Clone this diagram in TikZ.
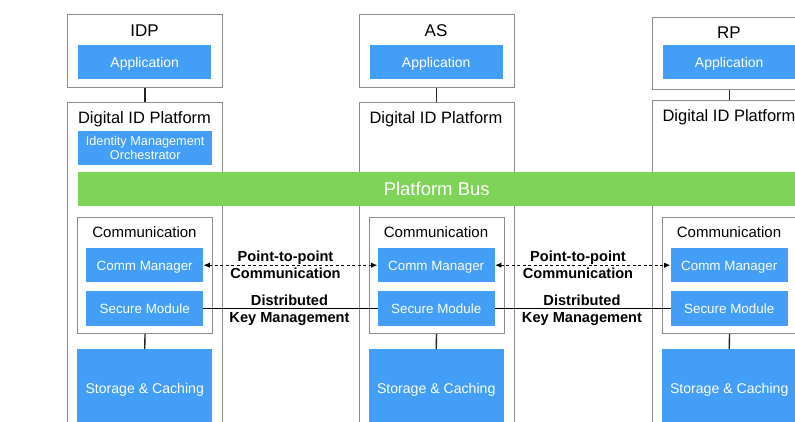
\documentclass[tikz,border=0pt]{standalone}
\usepackage{fontspec}
\setmainfont{Liberation Sans}
\usetikzlibrary{arrows.meta}
\definecolor{boxblue}{RGB}{66,158,246}
\definecolor{busgreen}{RGB}{126,211,88}
\definecolor{framegray}{RGB}{140,140,140}
\definecolor{linedark}{RGB}{35,35,35}
\begin{document}
\begin{tikzpicture}[x=1pt,y=-1pt,
  frame/.style={draw=framegray, line width=1.3pt, fill=white, inner sep=0pt, anchor=north west},
  subframe/.style={draw=framegray, line width=1.1pt, fill=white, inner sep=0pt, anchor=north west},
  bluebox/.style={fill=boxblue, text=white, inner sep=0pt, anchor=north west,
    font=\fontsize{13.4}{15}\selectfont, text height=9.6pt, text depth=0pt,
    minimum width=117pt},
  appbox/.style={bluebox, font=\fontsize{14}{16}\selectfont, text height=10pt,
    minimum width=133pt, minimum height=34pt},
  storebox/.style={bluebox, font=\fontsize{14.1}{16}\selectfont, text height=10.1pt,
    minimum width=135pt, minimum height=78pt},
  heading/.style={anchor=base, inner sep=0pt, font=\fontsize{17}{19}\selectfont},
  platname/.style={anchor=base, inner sep=0pt, font=\fontsize{16.5}{18}\selectfont},
  commname/.style={anchor=base, inner sep=0pt, font=\fontsize{15}{17}\selectfont},
  link/.style={draw=linedark, line width=1.4pt},
  p2p/.style={draw=black, line width=1.2pt, dash pattern=on 3pt off 2.5pt,
    {Latex[length=6.5pt,width=5.5pt]}-{Latex[length=6.5pt,width=5.5pt]}},
  keyline/.style={draw=black, line width=1.2pt},
  lbl/.style={align=center, inner sep=0pt, font=\bfseries\fontsize{14.6}{17}\selectfont}
]
\useasboundingbox (0,0) rectangle (795,421);
\clip (0,0) rectangle (795,421);

% top boxes
\node[frame, minimum width=155pt, minimum height=73pt] (idptop) at (67,14) {};
\node[frame, minimum width=155pt, minimum height=73pt] (astop) at (358.5,14) {};
\node[frame, minimum width=155pt, minimum height=72pt] (rptop) at (651.5,17) {};
\node[heading] (idptitle) at (144.5,36) {IDP};
\node[heading] (astitle) at (436,36) {AS};
\node[heading] (rptitle) at (729,38) {RP};
\node[appbox] (idpapp) at (78,45) {Application};
\node[appbox] (asapp) at (369.5,45) {Application};
\node[appbox] (rpapp) at (662.5,45) {Application};

% platform boxes
\node[frame, minimum width=155pt, minimum height=340pt] (idpplat) at (67,102) {};
\node[frame, minimum width=155pt, minimum height=340pt] (asplat) at (358.5,102) {};
\node[frame, minimum width=155pt, minimum height=342pt] (rpplat) at (651.5,100) {};
\node[platname] (idpplatname) at (144.5,123.5) {Digital ID Platform};
\node[platname] (asplatname) at (436,123.5) {Digital ID Platform};
\node[platname] (rpplatname) at (729,121.5) {Digital ID Platform};

\draw[link] (idptop.south) -- (idpplat.north);
\draw[link] (astop.south) -- (asplat.north);
\draw[link] (rptop.south) -- (rpplat.north);

% orchestrator
\node[bluebox, minimum width=134pt, minimum height=34pt, align=center,
  font=\fontsize{12.7}{13.5}\selectfont, text height={}, text depth={}] (imo) at (78,131)
  {Identity Management\\Orchestrator};

% platform bus
\node[fill=busgreen, text=white, anchor=north west, inner sep=0pt, minimum width=717pt,
  minimum height=34pt, font=\fontsize{18.5}{20}\selectfont, text height=13.2pt,
  text depth=0pt] (bus) at (78,172) {Platform Bus};

% communication boxes
\node[subframe, minimum width=135pt, minimum height=116pt] (idpcomm) at (77,217) {};
\node[subframe, minimum width=135pt, minimum height=116pt] (ascomm) at (368.5,217) {};
\node[subframe, minimum width=135pt, minimum height=116pt] (rpcomm) at (661.5,217) {};
\node[commname] (idpcommname) at (144.5,237) {Communication};
\node[commname] (ascommname) at (436,237) {Communication};
\node[commname] (rpcommname) at (729,237) {Communication};

\node[bluebox, minimum height=34pt] (idpcm) at (86,248) {Comm Manager};
\node[bluebox, minimum height=34pt] (ascm) at (377.5,248) {Comm Manager};
\node[bluebox, minimum height=34pt] (rpcm) at (670.5,248) {Comm Manager};
\node[bluebox, minimum height=35pt] (idpsm) at (86,291) {Secure Module};
\node[bluebox, minimum height=35pt] (assm) at (377.5,291) {Secure Module};
\node[bluebox, minimum height=35pt] (rpsm) at (670.5,291) {Secure Module};

% storage
\node[storebox] (idpstore) at (77,349) {Storage \& Caching};
\node[storebox] (asstore) at (368.5,349) {Storage \& Caching};
\node[storebox] (rpstore) at (661.5,349) {Storage \& Caching};

\draw[link] (idpcomm.south) -- (idpstore.north);
\draw[link] (ascomm.south) -- (asstore.north);
\draw[link] (rpcomm.south) -- (rpstore.north);

% inter-platform links
\draw[p2p] (idpcm.east) -- (ascm.west);
\draw[p2p] (ascm.east) -- (rpcm.west);
\draw[keyline] (idpsm.east) -- (assm.west);
\draw[keyline] (assm.east) -- (rpsm.west);

\node[lbl] (p2plabA) at (285.5,264.5) {Point-to-point\\Communication};
\node[lbl] (p2plabB) at (578,264.5) {Point-to-point\\Communication};
\node[lbl] (keylabA) at (289.5,310) {Distributed\\Key Management};
\node[lbl] (keylabB) at (582,310) {Distributed\\Key Management};
\end{tikzpicture}
\end{document}
